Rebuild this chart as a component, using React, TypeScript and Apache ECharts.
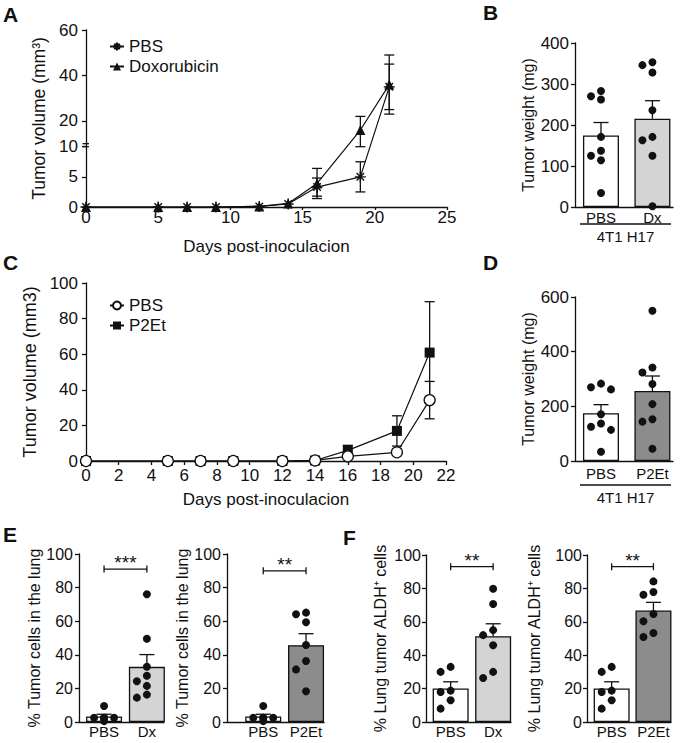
import React, { useEffect, useRef } from "react";
import * as echarts from "echarts";

const FONT = "'Liberation Sans', Arial, Helvetica, sans-serif";
const BLACK = "#111111";
const WHITE = "#ffffff";
const LIGHT = "#d4d4d4";
const DARK = "#8c8c8c";

// ---------- Panel A: tumor volume, PBS vs Doxorubicin ----------
const daysA = [0, 5, 7, 9, 12, 14, 16, 19, 21];
const pbsA = [0, 0, 0, 0, 0.1, 0.5, 3.3, 5.0, 35];
const pbsAErr = [0, 0, 0, 0, 0, 0.3, 1.5, 2.5, 10];
const doxA = [0, 0, 0, 0, 0.1, 0.6, 3.9, 16, 36];
const doxAErr = [0, 0, 0, 0, 0, 0.3, 2.5, 6, 13];
const ticksAY = [0, 5, 10, 20, 40, 60];
const seriesNamesA = ["PBS", "Doxorubicin"];

// ---------- Panel C: tumor volume, PBS vs P2Et ----------
const daysC = [0, 5, 7, 9, 12, 14, 16, 19, 21];
const pbsC = [0, 0, 0, 0, 0, 0.3, 2.6, 4.9, 34.2];
const pbsCErr = [0, 0, 0, 0, 0, 0.2, 1.2, 1.8, 10.5];
const p2etC = [0, 0, 0, 0, 0, 0.3, 6, 16.9, 60.9];
const p2etCErr = [0, 0, 0, 0, 0, 0.2, 2.8, 8.5, 28.6];
const seriesNamesC = ["PBS ", "P2Et"];

// ---------- Panels B / D: tumor weight (mg) ----------
const weightPBS = [270, 262, 283, 171, 125, 114, 137, 34];
const weightDx = [353, 328, 346, 236, 163, 171, 125, 2];
const weightP2Et = [550, 342, 324, 282, 208, 153, 144, 45];

// ---------- Panel E: % tumor cells in the lung ----------
const lungPBS = [9.5, 2.5, 2.5, 2.5, 2.5, 0.5];
const lungDx = [76, 49.6, 32.9, 27.5, 24.3, 21.5, 14.5, 16.3];
const lungP2Et = [64.1, 65.1, 59.4, 45.8, 36.3, 31.3, 18.3];

// ---------- Panel F: % lung tumor ALDH+ cells ----------
const aldhPBS = [30, 33, 18, 18.8, 8, 13];
const aldhDx = [79.8, 70.7, 52, 55, 46, 30, 26.3];
const aldhP2Et = [84.2, 76.2, 77.8, 64.7, 60.3, 53.3, 50.9];

// significance annotations (E1, E2, F1, F2)
const sigLabels = ["***", "**", "**", "**"];
const sigHeights = [91, 90, 93, 93];

const catsDx = ["PBS", "Dx"];
const catsP2Et = ["PBS", "P2Et"];
const groupLabel = "4T1 H17";

// ---------- helpers ----------
const mean = (a: number[]) => a.reduce((s, v) => s + v, 0) / a.length;
const sem = (a: number[]) => {
  const m = mean(a);
  const v = a.reduce((s, x) => s + (x - m) ** 2, 0) / (a.length - 1);
  return Math.sqrt(v / a.length);
};
// broken y axis of panel A: 0-10 full scale, above 10 compressed
const tA = (v: number) => (v <= 10 ? v : 10.5 + (v - 10) * 0.377);
const tAinv = (t: number) => (t <= 10.2 ? t : 10 + (t - 10.5) / 0.377);

// simple beeswarm offsets (pixels -> axis units)
function swarm(values: number[], pxPerUnitY: number, unitsPerPxX: number) {
  const order = values.map((_, i) => i).sort((a, b) => values[b] - values[a]);
  const cands = [0, -10, 10, -5, 5, -15, 15];
  const placed: { x: number; y: number }[] = [];
  const res = new Array(values.length).fill(0);
  for (const i of order) {
    const y = values[i] * pxPerUnitY;
    let chosen = 0;
    for (const c of cands) {
      if (placed.every((p) => Math.hypot(p.x - c, p.y - y) >= 8.5)) {
        chosen = c;
        break;
      }
    }
    placed.push({ x: chosen, y });
    res[i] = chosen * unitsPerPxX;
  }
  return res;
}

const ASTERISK = "path://M5 0L5 10M0 5L10 5M1.6 1.6L8.4 8.4M1.6 8.4L8.4 1.6";

const axisLineStyle = { show: true, onZero: false, lineStyle: { color: BLACK, width: 1.3 } };
const tick = (len: number, extra: any = {}) => ({
  show: true,
  length: len,
  lineStyle: { color: BLACK, width: 1.3 },
  ...extra,
});
const txt = (size: number) => ({ color: BLACK, fontFamily: FONT, fontSize: size });

function errRender(capHalf: number, both: boolean) {
  return (_params: any, api: any) => {
    const x = api.value(0);
    const lo = api.value(1);
    const hi = api.value(2);
    const a = api.coord([x, lo]);
    const b = api.coord([x, hi]);
    const st = { stroke: BLACK, lineWidth: 1.3 };
    const children: any[] = [
      { type: "line", shape: { x1: a[0], y1: a[1], x2: b[0], y2: b[1] }, style: st },
      { type: "line", shape: { x1: b[0] - capHalf, y1: b[1], x2: b[0] + capHalf, y2: b[1] }, style: st },
    ];
    if (both)
      children.push({
        type: "line",
        shape: { x1: a[0] - capHalf, y1: a[1], x2: a[0] + capHalf, y2: a[1] },
        style: st,
      });
    return { type: "group", children };
  };
}

function sigRender(label: string) {
  return (_params: any, api: any) => {
    const y = api.value(2);
    const a = api.coord([api.value(0), y]);
    const b = api.coord([api.value(1), y]);
    const st = { stroke: BLACK, lineWidth: 1.3 };
    return {
      type: "group",
      children: [
        { type: "line", shape: { x1: a[0], y1: a[1], x2: b[0], y2: b[1] }, style: st },
        { type: "line", shape: { x1: a[0], y1: a[1] - 3.5, x2: a[0], y2: a[1] + 3.5 }, style: st },
        { type: "line", shape: { x1: b[0], y1: b[1] - 3.5, x2: b[0], y2: b[1] + 3.5 }, style: st },
        {
          type: "text",
          x: (a[0] + b[0]) / 2,
          y: a[1] - 16,
          style: { text: label, fill: BLACK, font: `19px ${FONT}`, align: "center", verticalAlign: "top" },
        },
      ],
    };
  };
}

type BarPanel = {
  grid: { left: number; top: number; width: number; height: number };
  xmin: number;
  xmax: number;
  ymax: number;
  yint: number;
  cats: string[];
  groups: number[][];
  colors: string[];
  yName: string;
  nameGap: number;
  tickFont: number;
  nameFont: number;
  catMargin: number;
  yLabelMargin: number;
  sig: number;
};

const barPanels: BarPanel[] = [
  {
    grid: { left: 575, top: 43, width: 98, height: 164 },
    xmin: -0.505, xmax: 1.4, ymax: 400, yint: 100,
    cats: catsDx, groups: [weightPBS, weightDx], colors: [WHITE, LIGHT],
    yName: "Tumor weight (mg)", nameGap: 38, tickFont: 17, nameFont: 16, catMargin: 3, yLabelMargin: 6, sig: -1,
  },
  {
    grid: { left: 575, top: 297, width: 98, height: 164 },
    xmin: -0.505, xmax: 1.4, ymax: 600, yint: 200,
    cats: catsP2Et, groups: [weightPBS, weightP2Et], colors: [WHITE, DARK],
    yName: "Tumor weight (mg)", nameGap: 38, tickFont: 17, nameFont: 16, catMargin: 5, yLabelMargin: 6, sig: -1,
  },
  {
    grid: { left: 79, top: 554, width: 85, height: 168 },
    xmin: -0.585, xmax: 1.4, ymax: 100, yint: 20,
    cats: catsDx, groups: [lungPBS, lungDx], colors: [WHITE, LIGHT],
    yName: "% Tumor cells in the lung", nameGap: 36, tickFont: 16, nameFont: 16, catMargin: 2, yLabelMargin: 6, sig: 0,
  },
  {
    grid: { left: 227, top: 554, width: 97, height: 168 },
    xmin: -0.847, xmax: 1.42, ymax: 100, yint: 20,
    cats: catsP2Et, groups: [lungPBS, lungP2Et], colors: [WHITE, DARK],
    yName: "% Tumor cells in the lung", nameGap: 29, tickFont: 16, nameFont: 16, catMargin: 2, yLabelMargin: 6, sig: 1,
  },
  {
    grid: { left: 426, top: 555, width: 85, height: 167 },
    xmin: -0.58, xmax: 1.42, ymax: 100, yint: 20,
    cats: catsDx, groups: [aldhPBS, aldhDx], colors: [WHITE, LIGHT],
    yName: "% Lung tumor ALDH\u207A cells", nameGap: 38, tickFont: 16, nameFont: 16, catMargin: 2, yLabelMargin: 5, sig: 2,
  },
  {
    grid: { left: 587, top: 555, width: 84, height: 167 },
    xmin: -0.59, xmax: 1.42, ymax: 100, yint: 20,
    cats: catsP2Et, groups: [aldhPBS, aldhP2Et], colors: [WHITE, DARK],
    yName: "% Lung tumor ALDH\u207A cells", nameGap: 45, tickFont: 16, nameFont: 16, catMargin: 2, yLabelMargin: 5, sig: 3,
  },
];

function buildOption() {
  const grids: any[] = [];
  const xAxes: any[] = [];
  const yAxes: any[] = [];
  const series: any[] = [];

  // ---- Panel A (grid 0)
  const tickT = ticksAY.map(tA);
  grids.push({ left: 86, top: 30, width: 361, height: 177 });
  xAxes.push({
    gridIndex: 0, type: "value", min: 0, max: 25, interval: 5,
    axisLine: axisLineStyle, axisTick: tick(3), splitLine: { show: false },
    axisLabel: { ...txt(17), margin: 2 },
    name: "Days post-inoculacion", nameLocation: "middle", nameGap: 31, nameTextStyle: txt(17),
  });
  yAxes.push({
    gridIndex: 0, type: "value", min: 0, max: tA(60),
    axisLine: axisLineStyle, axisTick: tick(4, { customValues: tickT }), splitLine: { show: false },
    axisLabel: {
      ...txt(17), margin: 8, customValues: tickT,
      formatter: (v: number) => String(Math.round(tAinv(v))),
    },
    name: "Tumor volume (mm\u00B3)", nameLocation: "middle", nameGap: 36, nameTextStyle: txt(17.5),
  });

  const lineCommon = {
    type: "line", xAxisIndex: 0, yAxisIndex: 0, z: 5,
    lineStyle: { color: BLACK, width: 1.2 },
  };
  series.push({
    ...lineCommon, name: seriesNamesA[0],
    data: daysA.map((d, i) => [d, tA(pbsA[i])]),
    symbol: ASTERISK, symbolSize: 11,
    itemStyle: { color: BLACK, borderColor: BLACK, borderWidth: 1.4 },
  });
  series.push({
    ...lineCommon, name: seriesNamesA[1],
    data: daysA.map((d, i) => [d, tA(doxA[i])]),
    symbol: "triangle", symbolSize: 10,
    itemStyle: { color: BLACK },
  });
  const errA = (vals: number[], errs: number[]) =>
    daysA
      .map((d, i) => [d, tA(Math.max(0, vals[i] - errs[i])), tA(vals[i] + errs[i]), errs[i]])
      .filter((r) => r[3] > 0.5);
  for (const [vals, errs] of [[pbsA, pbsAErr], [doxA, doxAErr]] as number[][][]) {
    series.push({
      type: "custom", xAxisIndex: 0, yAxisIndex: 0, z: 3,
      renderItem: errRender(5, true), encode: { x: 0, y: [1, 2] },
      data: errA(vals, errs),
    });
  }

  // ---- Panel C (grid 1)
  grids.push({ left: 86, top: 283, width: 360, height: 178 });
  xAxes.push({
    gridIndex: 1, type: "value", min: 0, max: 22, interval: 2,
    axisLine: axisLineStyle, axisTick: tick(4), splitLine: { show: false },
    axisLabel: { ...txt(17), margin: 6 },
    name: "Days post-inoculacion", nameLocation: "middle", nameGap: 30, nameTextStyle: txt(17),
  });
  yAxes.push({
    gridIndex: 1, type: "value", min: 0, max: 100, interval: 20,
    axisLine: axisLineStyle, axisTick: tick(4), splitLine: { show: false },
    axisLabel: { ...txt(17), margin: 8 },
    name: "Tumor volume (mm3)", nameLocation: "middle", nameGap: 41, nameTextStyle: txt(18),
  });
  const lineC = { ...lineCommon, xAxisIndex: 1, yAxisIndex: 1 };
  series.push({
    ...lineC, name: seriesNamesC[1],
    data: daysC.map((d, i) => [d, p2etC[i]]),
    symbol: "rect", symbolSize: 10,
    itemStyle: { color: BLACK },
  });
  series.push({
    ...lineC, name: seriesNamesC[0], z: 6,
    data: daysC.map((d, i) => [d, pbsC[i]]),
    symbol: "circle", symbolSize: 11,
    itemStyle: { color: WHITE, borderColor: BLACK, borderWidth: 1.3 },
  });
  const errC = (vals: number[], errs: number[]) =>
    daysC
      .map((d, i) => [d, Math.max(0, vals[i] - errs[i]), vals[i] + errs[i], errs[i]])
      .filter((r) => r[3] > 0.5);
  for (const [vals, errs] of [[pbsC, pbsCErr], [p2etC, p2etCErr]] as number[][][]) {
    series.push({
      type: "custom", xAxisIndex: 1, yAxisIndex: 1, z: 3,
      renderItem: errRender(5, true), encode: { x: 0, y: [1, 2] },
      data: errC(vals, errs),
    });
  }

  // ---- bar panels
  barPanels.forEach((p) => {
    const gi = grids.length;
    grids.push(p.grid);
    const unitsPerPxX = (p.xmax - p.xmin) / p.grid.width;
    const pxPerUnitY = p.grid.height / p.ymax;
    xAxes.push({
      gridIndex: gi, type: "value", min: p.xmin, max: p.xmax,
      axisLine: axisLineStyle, axisTick: { show: false }, splitLine: { show: false },
      axisLabel: {
        ...txt(15), margin: p.catMargin, customValues: [0, 1],
        formatter: (v: number) => p.cats[Math.round(v)] ?? "",
      },
    });
    yAxes.push({
      gridIndex: gi, type: "value", min: 0, max: p.ymax, interval: p.yint,
      axisLine: axisLineStyle, axisTick: tick(4), splitLine: { show: false },
      axisLabel: { ...txt(p.tickFont), margin: p.yLabelMargin },
      name: p.yName, nameLocation: "middle", nameGap: p.nameGap, nameTextStyle: txt(p.nameFont),
    });
    series.push({
      type: "bar", xAxisIndex: gi, yAxisIndex: gi, barWidth: 36, z: 2,
      itemStyle: { borderColor: BLACK, borderWidth: 1.3 },
      data: p.groups.map((g, i) => ({ value: [i, mean(g)], itemStyle: { color: p.colors[i] } })),
    });
    series.push({
      type: "custom", xAxisIndex: gi, yAxisIndex: gi, z: 3,
      renderItem: errRender(7.5, false), encode: { x: 0, y: [1, 2] },
      data: p.groups.map((g, i) => [i, mean(g), mean(g) + sem(g)]),
    });
    const pts: number[][] = [];
    p.groups.forEach((g, i) => {
      const off = swarm(g, pxPerUnitY, unitsPerPxX);
      g.forEach((v, k) => pts.push([i + off[k], v]));
    });
    series.push({
      type: "scatter", xAxisIndex: gi, yAxisIndex: gi, z: 4,
      symbol: "circle", symbolSize: 8, itemStyle: { color: BLACK, opacity: 1 },
      data: pts,
    });
    if (p.sig >= 0) {
      series.push({
        type: "custom", xAxisIndex: gi, yAxisIndex: gi, z: 4,
        renderItem: sigRender(sigLabels[p.sig]), encode: { x: [0, 1], y: 2 },
        data: [[0, 1, sigHeights[p.sig]]],
      });
    }
  });

  const legendCommon = {
    orient: "vertical", itemWidth: 14, itemHeight: 10, itemGap: 3,
    textStyle: txt(17), selectedMode: false,
  };

  return {
    animation: false,
    backgroundColor: "#ffffff",
    grid: grids,
    xAxis: xAxes,
    yAxis: yAxes,
    legend: [
      { ...legendCommon, left: 104, top: 33, data: seriesNamesA },
      { ...legendCommon, left: 104, top: 292, data: seriesNamesC, formatter: (n: string) => n.trim() },
    ],
    series,
  };
}

function buildGraphics(chart: any) {
  const g: any[] = [];
  const letters: [string, number, number][] = [
    ["A", 3, 4], ["B", 483, 2], ["C", 3, 252], ["D", 483, 252], ["E", 3, 524], ["F", 343, 527],
  ];
  letters.forEach(([t, x, y]) =>
    g.push({
      type: "text", x, y,
      style: { text: t, fill: BLACK, font: `bold 21px ${FONT}`, align: "left", verticalAlign: "top" },
    })
  );
  // group bracket "4T1 H17" under panels B and D
  const brackets: [number, number][] = [[224, 236], [485, 497]];
  brackets.forEach(([ly, ty]) => {
    g.push({ type: "line", shape: { x1: 580, y1: ly, x2: 671, y2: ly }, style: { stroke: BLACK, lineWidth: 1.3 } });
    g.push({
      type: "text", x: 625.5, y: ty,
      style: { text: groupLabel, fill: BLACK, font: `15px ${FONT}`, align: "center", verticalAlign: "middle" },
    });
  });
  // axis break marks on panel A
  const lo = chart.convertToPixel({ gridIndex: 0 }, [0, 10]);
  const hi = chart.convertToPixel({ gridIndex: 0 }, [0, 10.5]);
  if (lo && hi) {
    [lo, hi].forEach((p: number[]) =>
      g.push({ type: "line", shape: { x1: p[0] - 3.5, y1: p[1], x2: p[0] + 3, y2: p[1] }, style: { stroke: BLACK, lineWidth: 1.3 } })
    );
  }
  return g;
}

export default function App() {
  const ref = useRef<HTMLDivElement>(null);
  useEffect(() => {
    document.body.style.margin = "0";
    const chart = echarts.init(ref.current!, null, { renderer: "svg" });
    chart.setOption(buildOption() as any);
    chart.setOption({ graphic: buildGraphics(chart) } as any);
    return () => chart.dispose();
  }, []);
  return <div ref={ref} style={{ width: 681, height: 743 }} />;
}
